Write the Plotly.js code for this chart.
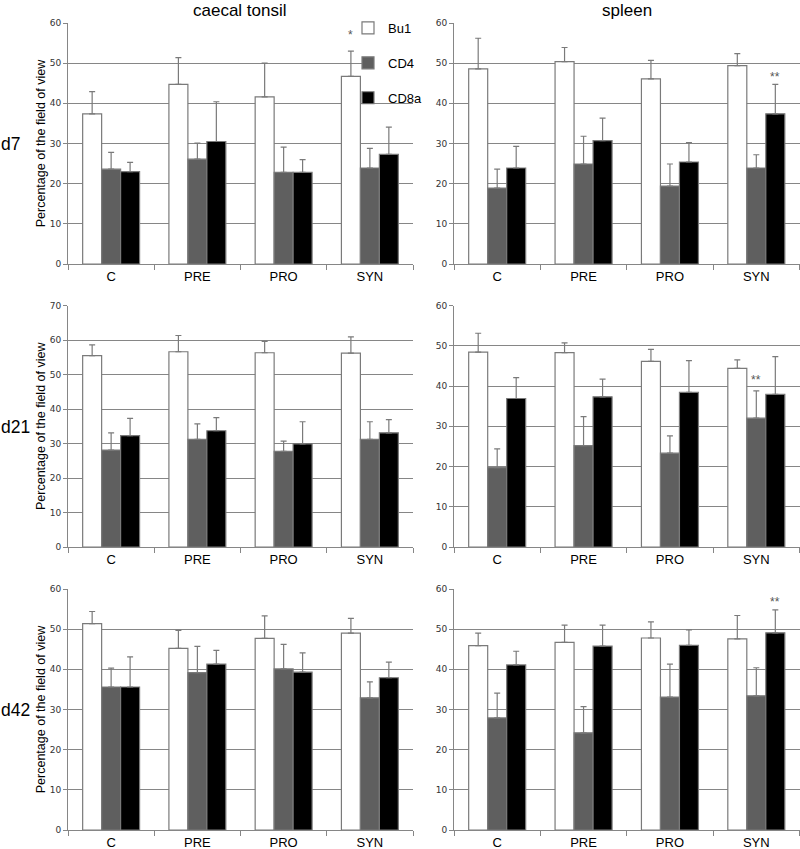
<!DOCTYPE html>
<html>
<head>
<meta charset="utf-8">
<script src="https://cdn.plot.ly/plotly-3.0.1.min.js"></script>
<style>html,body{margin:0;padding:0;background:#fff;}#chart{width:800px;height:849px;}</style>
</head>
<body>
<div id="chart"></div>
<script>
// ---- data ----
const categories = ["C", "PRE", "PRO", "SYN"];
const seriesNames = ["Bu1", "CD4", "CD8a"];
const columnTitles = ["caecal tonsil", "spleen"];
const rowLabels = ["d7", "d21", "d42"];

// caecal tonsil, d7
const ct_d7_bu1 = [37.4, 44.7, 41.6, 46.7];
const ct_d7_bu1_sd = [5.5, 6.7, 8.4, 6.3];
const ct_d7_cd4 = [23.6, 26.1, 22.8, 23.9];
const ct_d7_cd4_sd = [4.2, 4.0, 6.3, 4.9];
const ct_d7_cd8a = [23.0, 30.5, 22.8, 27.3];
const ct_d7_cd8a_sd = [2.3, 9.9, 3.2, 6.8];
// spleen, d7
const sp_d7_bu1 = [48.6, 50.4, 46.1, 49.4];
const sp_d7_bu1_sd = [7.6, 3.5, 4.6, 3.0];
const sp_d7_cd4 = [18.9, 24.9, 19.4, 23.9];
const sp_d7_cd4_sd = [4.7, 6.9, 5.5, 3.3];
const sp_d7_cd8a = [23.9, 30.7, 25.4, 37.4];
const sp_d7_cd8a_sd = [5.4, 5.6, 4.8, 7.3];
// caecal tonsil, d21
const ct_d21_bu1 = [55.5, 56.6, 56.3, 56.2];
const ct_d21_bu1_sd = [3.1, 4.7, 3.3, 4.7];
const ct_d21_cd4 = [28.1, 31.2, 27.7, 31.2];
const ct_d21_cd4_sd = [5.0, 4.5, 3.0, 5.1];
const ct_d21_cd8a = [32.3, 33.7, 29.9, 33.1];
const ct_d21_cd8a_sd = [5.0, 3.8, 6.4, 3.8];
// spleen, d21
const sp_d21_bu1 = [48.4, 48.3, 46.1, 44.4];
const sp_d21_bu1_sd = [4.7, 2.4, 3.0, 2.1];
const sp_d21_cd4 = [19.7, 25.2, 23.3, 32.0];
const sp_d21_cd4_sd = [4.7, 7.2, 4.3, 6.8];
const sp_d21_cd8a = [36.9, 37.3, 38.4, 37.9];
const sp_d21_cd8a_sd = [5.2, 4.4, 7.9, 9.4];
// caecal tonsil, d42
const ct_d42_bu1 = [51.4, 45.2, 47.7, 49.0];
const ct_d42_bu1_sd = [3.0, 4.5, 5.6, 3.7];
const ct_d42_cd4 = [35.6, 39.2, 40.1, 32.9];
const ct_d42_cd4_sd = [4.7, 6.5, 6.1, 4.0];
const ct_d42_cd8a = [35.6, 41.3, 39.3, 37.9];
const ct_d42_cd8a_sd = [7.5, 3.4, 4.8, 3.9];
// spleen, d42
const sp_d42_bu1 = [45.9, 46.7, 47.8, 47.6];
const sp_d42_bu1_sd = [3.1, 4.3, 4.0, 5.8];
const sp_d42_cd4 = [27.9, 24.2, 33.1, 33.4];
const sp_d42_cd4_sd = [6.2, 6.5, 8.2, 7.0];
const sp_d42_cd8a = [41.1, 45.8, 46.0, 49.1];
const sp_d42_cd8a_sd = [3.4, 5.2, 3.8, 5.7];

// y-axis maxima per panel
const yMax = [60, 60, 70, 60, 60, 60];

// significance marks: panel index, category, series, y value, text
const sigPanel = [0, 1, 3, 5];
const sigCategory = ["SYN", "SYN", "SYN", "SYN"];
const sigSeries = [0, 2, 1, 2];
const sigY = [57.0, 46.5, 41.4, 56.8];
const sigText = ["*", "**", "**", "**"];

// ---- build ----
const panels = [
  [[ct_d7_bu1, ct_d7_bu1_sd], [ct_d7_cd4, ct_d7_cd4_sd], [ct_d7_cd8a, ct_d7_cd8a_sd]],
  [[sp_d7_bu1, sp_d7_bu1_sd], [sp_d7_cd4, sp_d7_cd4_sd], [sp_d7_cd8a, sp_d7_cd8a_sd]],
  [[ct_d21_bu1, ct_d21_bu1_sd], [ct_d21_cd4, ct_d21_cd4_sd], [ct_d21_cd8a, ct_d21_cd8a_sd]],
  [[sp_d21_bu1, sp_d21_bu1_sd], [sp_d21_cd4, sp_d21_cd4_sd], [sp_d21_cd8a, sp_d21_cd8a_sd]],
  [[ct_d42_bu1, ct_d42_bu1_sd], [ct_d42_cd4, ct_d42_cd4_sd], [ct_d42_cd8a, ct_d42_cd8a_sd]],
  [[sp_d42_bu1, sp_d42_bu1_sd], [sp_d42_cd4, sp_d42_cd4_sd], [sp_d42_cd8a, sp_d42_cd8a_sd]]
];

const W = 800, H = 849;
const fills = ["#ffffff", "#5f5f5f", "#000000"];
const gray = "#868686";
const FONT = "Liberation Sans, Arial, sans-serif";

const colPx = [[68, 413], [454, 799.5]];
const rowPx = [[23, 264], [305.5, 547], [589, 830]];

const traces = [];
panels.forEach((panel, p) => {
  const idx = p === 0 ? "" : String(p + 1);
  panel.forEach((s, k) => {
    traces.push({
      type: "bar",
      name: seriesNames[k],
      legendgroup: seriesNames[k],
      showlegend: p === 0,
      x: categories,
      y: s[0],
      xaxis: "x" + idx,
      yaxis: "y" + idx,
      marker: { color: fills[k], line: { color: "#7a7a7a", width: 1.2 } },
      error_y: { type: "data", symmetric: false, array: s[1], arrayminus: s[1].map(() => 0),
                 color: "#7a7a7a", thickness: 1.2, width: 3 },
      hoverinfo: "x+y+name"
    });
  });
});

const layout = {
  width: W, height: H,
  margin: { l: 0, r: 0, t: 0, b: 0 },
  paper_bgcolor: "#fff", plot_bgcolor: "rgba(0,0,0,0)",
  font: { family: FONT, color: "#000" },
  barmode: "group", bargap: 0.34, bargroupgap: 0,
  showlegend: true,
  legend: {
    x: 348 / W, y: 1 - 13 / H, xanchor: "left", yanchor: "top",
    bgcolor: "rgba(0,0,0,0)", font: { size: 13, family: FONT, color: "#000" },
    traceorder: "grouped", tracegroupgap: 15, itemwidth: 30
  },
  // white patch behind the legend, hiding the gridlines there
  shapes: [{
    type: "rect", xref: "paper", yref: "paper", layer: "above",
    x0: 362.5 / W, x1: 414 / W, y0: 1 - 100 / H, y1: 1 - 14 / H,
    fillcolor: "#fff", line: { width: 0 }
  }],
  annotations: []
};

for (let p = 0; p < 6; p++) {
  const col = p % 2, row = Math.floor(p / 2);
  const idx = p === 0 ? "" : String(p + 1);
  const xd = [colPx[col][0] / W, colPx[col][1] / W];
  const yd = [1 - rowPx[row][1] / H, 1 - rowPx[row][0] / H];
  layout["xaxis" + idx] = {
    domain: xd, anchor: "y" + idx, type: "category",
    showgrid: false, showline: true, linecolor: gray, linewidth: 1,
    ticks: "outside", tickson: "boundaries", ticklen: 5, tickcolor: gray,
    tickfont: { size: 13, color: "#000", family: FONT }, fixedrange: true
  };
  const ya = {
    domain: yd, anchor: "x" + idx, range: [0, yMax[p]], dtick: 10,
    showgrid: true, gridcolor: gray, gridwidth: 1, zeroline: false,
    showline: true, linecolor: gray, linewidth: 1,
    ticks: "outside", ticklen: 4, tickcolor: gray,
    tickfont: { size: 9, color: "#333", family: "DejaVu Sans, sans-serif" }, fixedrange: true
  };
  if (col === 0) {
    ya.title = { text: "Percentage of the field of view", font: { size: 12.5, color: "#000", family: FONT }, standoff: 1 };
  }
  layout["yaxis" + idx] = ya;
}

// column titles
columnTitles.forEach((t, c) => {
  layout.annotations.push({
    text: t, xref: "paper", yref: "paper",
    x: (c === 0 ? 240 : 627) / W, y: 1, xanchor: "center", yanchor: "top",
    borderpad: 0, showarrow: false, font: { size: 17, family: FONT, color: "#000" }
  });
});
// row labels
const rowLabelY = [144, 427, 710];
rowLabels.forEach((t, r) => {
  layout.annotations.push({
    text: t, xref: "paper", yref: "paper",
    x: 0, y: 1 - rowLabelY[r] / H, xanchor: "left", yanchor: "middle",
    borderpad: 0, showarrow: false, font: { size: 17.5, family: FONT, color: "#000" }
  });
});
// significance marks
const barPx = 19;
sigPanel.forEach((p, i) => {
  const idx = p === 0 ? "" : String(p + 1);
  layout.annotations.push({
    text: sigText[i], xref: "x" + idx, yref: "y" + idx,
    x: sigCategory[i], y: sigY[i], xshift: (sigSeries[i] - 1) * barPx,
    xanchor: "center", yanchor: "middle", showarrow: false,
    font: { size: 12, family: FONT, color: "#555" }
  });
});

Plotly.newPlot("chart", traces, layout, { displayModeBar: false, staticPlot: true });
</script>
</body>
</html>
